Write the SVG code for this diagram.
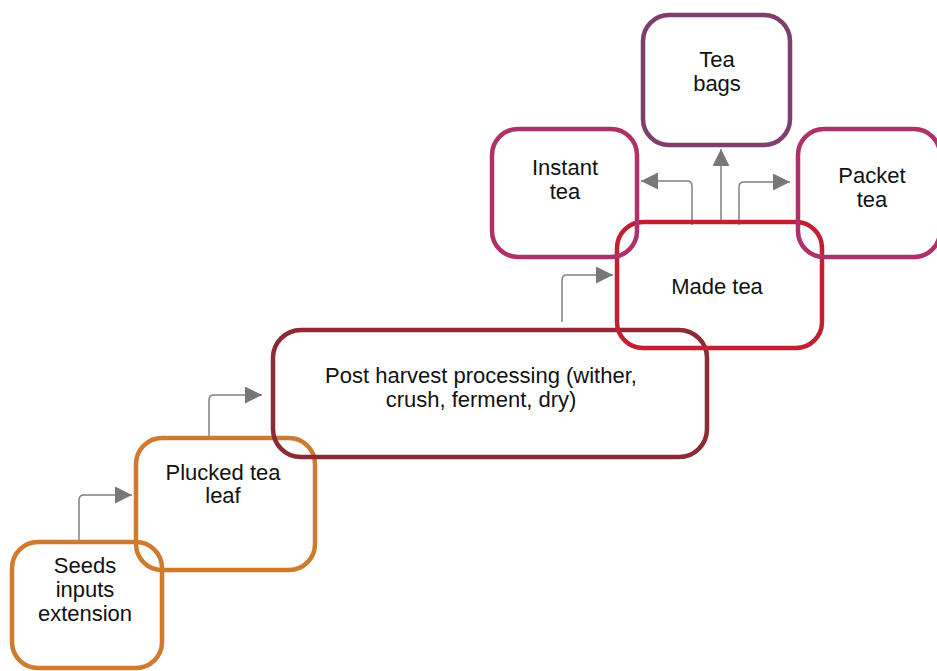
<svg xmlns="http://www.w3.org/2000/svg" width="937" height="671" viewBox="0 0 937 671">
<style>
.box{fill:none;stroke-width:4.5}
.t{font-family:"Liberation Sans",Arial,sans-serif;font-size:22px;fill:#111;text-anchor:middle}
.c{fill:none;stroke:#808080;stroke-width:1.5}
</style>
<defs>
<marker id="a" viewBox="0 0 10 10" refX="10" refY="5" markerWidth="18" markerHeight="17" markerUnits="userSpaceOnUse" orient="auto">
<path d="M0,0 L10,5 L0,10 Z" fill="#777"/>
</marker>
</defs>
<rect width="937" height="671" fill="#fff"/>
<g id="connectors">
<path class="c" d="M79,541 V500 Q79,495 84,495 H132" marker-end="url(#a)"/>
<path class="c" d="M209,437 V400 Q209,395 214,395 H262" marker-end="url(#a)"/>
<path class="c" d="M562,322 V280 Q562,275 567,275 H613" marker-end="url(#a)"/>
<path class="c" d="M692,225 V186 Q692,181 687,181 H641" marker-end="url(#a)"/>
<path class="c" d="M721,222 V149" marker-end="url(#a)"/>
<path class="c" d="M739,225 V187 Q739,182 744,182 H790" marker-end="url(#a)"/>
</g>
<g id="seeds">
<rect class="box" x="12" y="542" width="150" height="126" rx="26" stroke="#D07A2E"/>
<text class="t" x="85" y="573">Seeds</text>
<text class="t" x="85" y="597">inputs</text>
<text class="t" x="85" y="621">extension</text>
</g>
<g id="plucked">
<rect class="box" x="136" y="438" width="179" height="132" rx="26" stroke="#D07A2E"/>
<text class="t" x="223" y="480">Plucked tea</text>
<text class="t" x="223" y="503">leaf</text>
</g>
<g id="post">
<rect class="box" x="273" y="330" width="434" height="127" rx="28" stroke="#8E2A35"/>
<text class="t" x="481" y="383">Post harvest processing (wither,</text>
<text class="t" x="481" y="407">crush, ferment, dry)</text>
</g>
<g id="made">
<rect class="box" x="617" y="222" width="205" height="126" rx="26" stroke="#C0202F"/>
<text class="t" x="717" y="294">Made tea</text>
</g>
<g id="instant">
<rect class="box" x="492" y="129" width="145" height="128" rx="26" stroke="#B0306A"/>
<text class="t" x="565" y="175">Instant</text>
<text class="t" x="565" y="199">tea</text>
</g>
<g id="teabags">
<rect class="box" x="643" y="15" width="147" height="130" rx="26" stroke="#7E3F6E"/>
<text class="t" x="717" y="67">Tea</text>
<text class="t" x="717" y="91">bags</text>
</g>
<g id="packet">
<rect class="box" x="798" y="129" width="142" height="128" rx="26" stroke="#B0306A"/>
<text class="t" x="872" y="183">Packet</text>
<text class="t" x="872" y="207">tea</text>
</g>
</svg>
